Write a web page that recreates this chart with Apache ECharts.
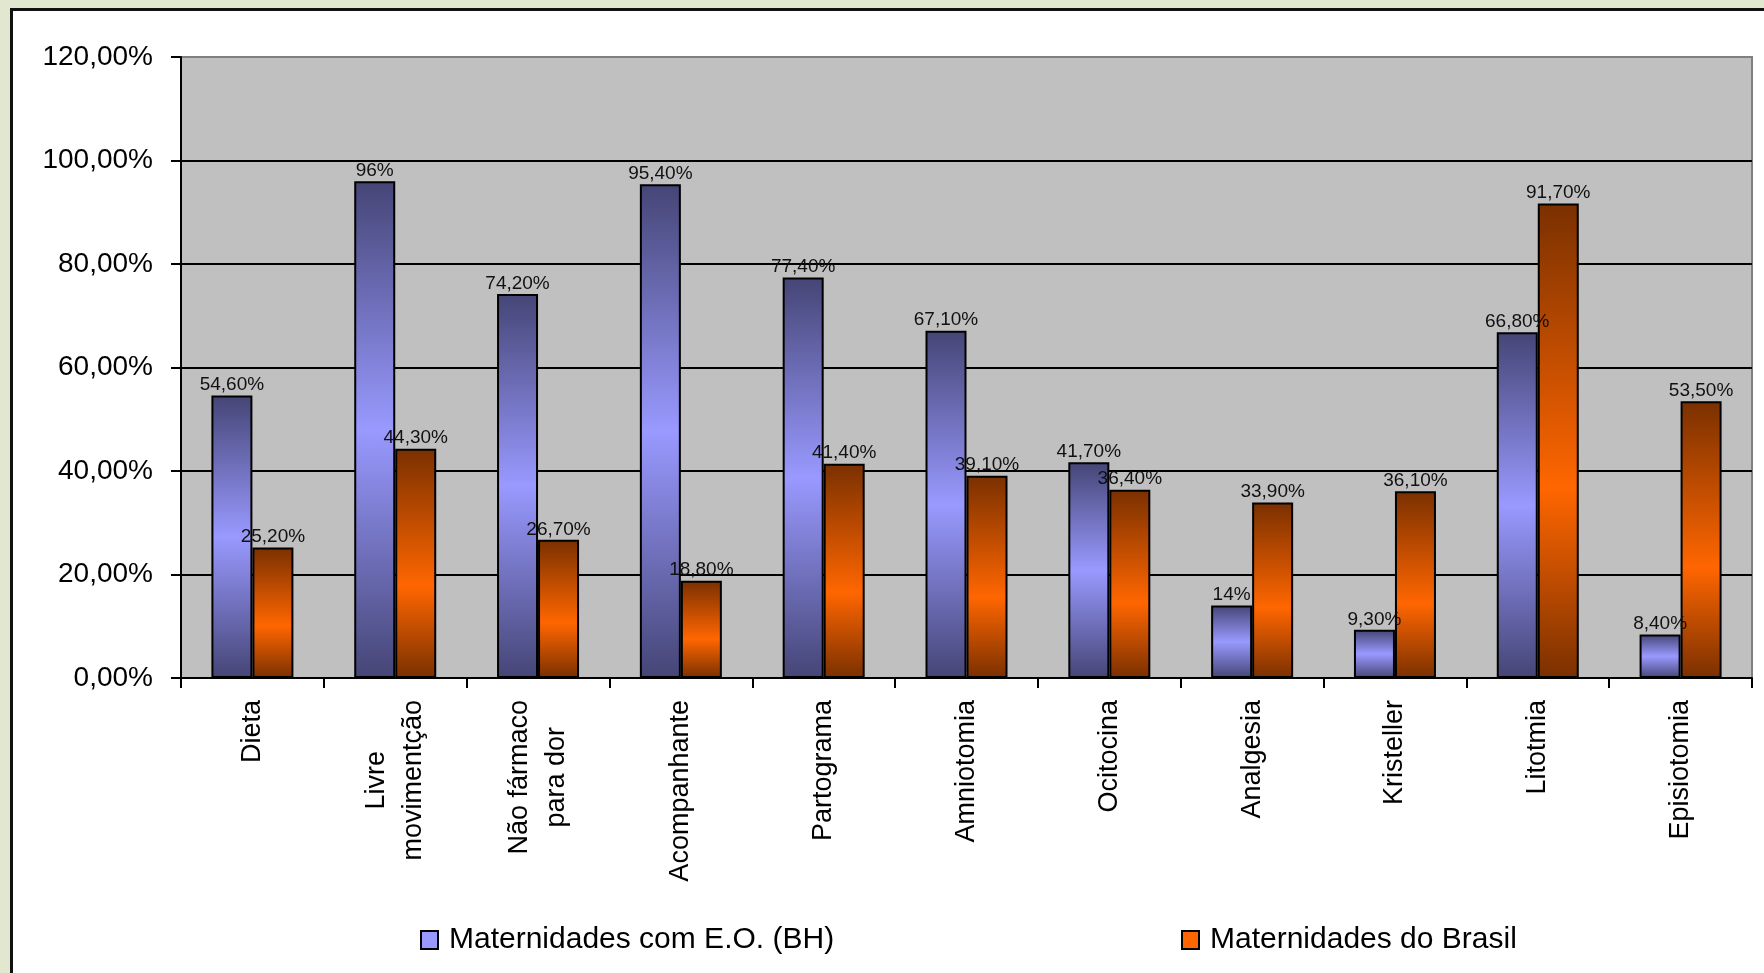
<!DOCTYPE html>
<html>
<head>
<meta charset="utf-8">
<script src="https://cdn.jsdelivr.net/npm/echarts@6/dist/echarts.min.js"></script>
<style>
html, body { margin:0; padding:0; width:1764px; height:973px; overflow:hidden; background:#e2e8cf; }
#frame { position:absolute; left:10px; top:8px; width:1800px; height:1000px; border:3px solid #111; background:#fff; }
#chart { position:absolute; left:0; top:0; width:1764px; height:973px; }
</style>
</head>
<body>
<div id="frame"></div>
<div id="chart"></div>
<script>
// categorias (eixo x)
var categories = ['Dieta', 'Livre\nmovimentção', 'Não fármaco\npara dor', 'Acompanhante', 'Partograma',
	'Amniotomia', 'Ocitocina', 'Analgesia', 'Kristeller', 'Litotmia', 'Episiotomia'];
// nomes das series
var seriesNames = ['Maternidades com E.O. (BH)', 'Maternidades do Brasil'];
// valores (%)
var bhValues = [54.6, 96, 74.2, 95.4, 77.4, 67.1, 41.7, 14, 9.3, 66.8, 8.4];
var brValues = [25.2, 44.3, 26.7, 18.8, 41.4, 39.1, 36.4, 33.9, 36.1, 91.7, 53.5];
// rotulos dos dados, como aparecem no grafico
var bhLabels = ['54,60%', '96%', '74,20%', '95,40%', '77,40%', '67,10%', '41,70%', '14%', '9,30%', '66,80%', '8,40%'];
var brLabels = ['25,20%', '44,30%', '26,70%', '18,80%', '41,40%', '39,10%', '36,40%', '33,90%', '36,10%', '91,70%', '53,50%'];
// rotulos do eixo y
var yTickLabels = ['0,00%', '20,00%', '40,00%', '60,00%', '80,00%', '100,00%', '120,00%'];

var FONT = '"Liberation Sans", Arial, sans-serif';

var myChart = echarts.init(document.getElementById('chart'));

function grad(dark, light, mid)
{
	return new echarts.graphic.LinearGradient(0, 0, 0, 1, [
		{offset: 0, color: dark},
		{offset: mid, color: light},
		{offset: 1, color: dark}
	]);
}

function makeSeries(name, values, labels, color)
{
	return {
		name: name,
		type: 'bar',
		barWidth: 41,
		barGap: '0%',
		data: values,
		itemStyle: {color: color, borderColor: '#000', borderWidth: 2},
		label: {
			show: true,
			position: 'top',
			distance: 1,
			color: '#111',
			fontFamily: FONT,
			fontSize: 19,
			formatter: function(p) { return labels[p.dataIndex]; }
		}
	};
}

function makeLegend(name, color, left)
{
	return {
		data: [{name: name, itemStyle: {color: color, borderColor: '#000', borderWidth: 2}}],
		left: left, top: 925,
		padding: 0,
		itemWidth: 17, itemHeight: 18,
		icon: 'rect',
		textStyle: {fontFamily: FONT, fontSize: 30, color: '#000', padding: [0, 0, 0, 6]}
	};
}

var option = {
	backgroundColor: 'transparent',
	animation: false,
	grid: {
		left: 181, right: 12, top: 57, bottom: 295,
		show: true,
		backgroundColor: '#c0c0c0',
		borderColor: '#808080',
		borderWidth: 2
	},
	legend: [
		makeLegend(seriesNames[0], '#9999ff', 420),
		makeLegend(seriesNames[1], '#ff6600', 1181)
	],
	xAxis: {
		type: 'category',
		data: categories,
		axisLine: {lineStyle: {color: '#000', width: 2}},
		axisTick: {show: true, length: 10, lineStyle: {color: '#000', width: 2}},
		axisLabel: {
			interval: 0,
			rotate: 90,
			margin: 22,
			color: '#000',
			fontFamily: FONT,
			fontSize: 27,
			formatter: function(v) {
				return v.split('\n').map(function(s) { return '{c|' + s + '}'; }).join('\n');
			},
			rich: {c: {align: 'center', fontFamily: FONT, fontSize: 27, color: '#000', lineHeight: 37}}
		}
	},
	yAxis: {
		type: 'value',
		min: 0, max: 120, interval: 20,
		axisLine: {show: true, lineStyle: {color: '#000', width: 2}},
		axisTick: {show: true, length: 10, lineStyle: {color: '#000', width: 2}},
		axisLabel: {
			margin: 28,
			color: '#000',
			fontFamily: FONT,
			fontSize: 28,
			formatter: function(v) { return yTickLabels[Math.round(v / 20)]; }
		},
		splitLine: {show: true, lineStyle: {color: ['#000', '#000', '#000', '#000', '#000', '#000', '#808080'], width: 2}}
	},
	series: [
		makeSeries(seriesNames[0], bhValues, bhLabels, grad('#454576', '#9999ff', 0.5)),
		makeSeries(seriesNames[1], brValues, brLabels, grad('#7a3000', '#ff6600', 0.6))
	]
};
myChart.setOption(option);
</script>
</body>
</html>
